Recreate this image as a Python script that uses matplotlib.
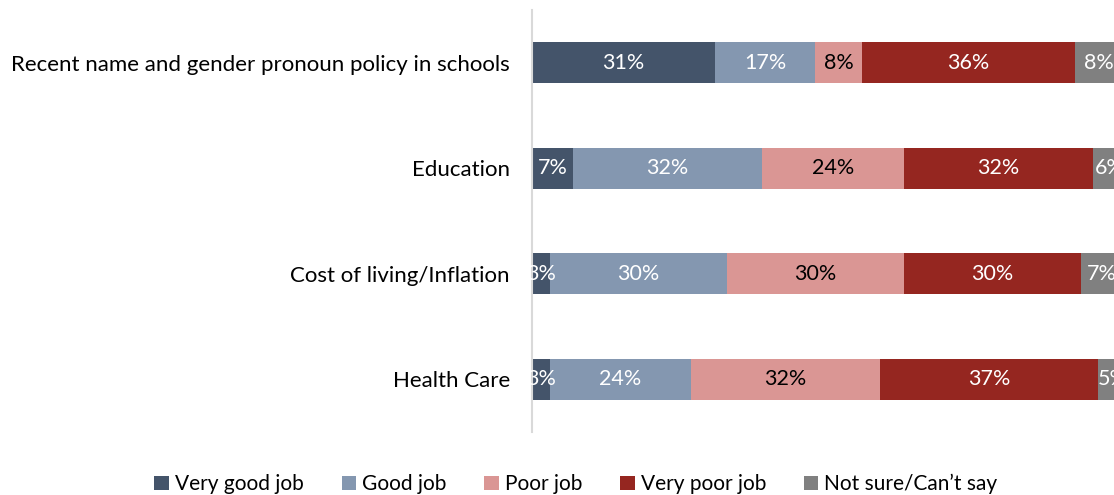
import matplotlib
matplotlib.use("Agg")
import matplotlib.pyplot as plt
from matplotlib.patches import Patch

plt.rcParams['font.family'] = ['Lato', 'DejaVu Sans']

categories = [
    "Recent name and gender pronoun policy in schools",
    "Education",
    "Cost of living/Inflation",
    "Health Care",
]
series_names = ["Very good job", "Good job", "Poor job", "Very poor job", "Not sure/Can\u2019t say"]
very_good = [31, 7, 3, 3]
good = [17, 32, 30, 24]
poor = [8, 24, 30, 32]
very_poor = [36, 32, 30, 37]
not_sure = [8, 6, 7, 5]

series = [very_good, good, poor, very_poor, not_sure]
colors = ["#44546A", "#8497B0", "#DA9694", "#952620", "#808080"]
text_colors = ["white", "white", "black", "white", "white"]

fig = plt.figure(figsize=(11.14, 4.95), dpi=100)
W, H = 1114, 495
left_px, right_px, top_px, bottom_px = 532, 1122, 10, 432
ax = fig.add_axes([left_px / W, 1 - bottom_px / H,
                   (right_px - left_px) / W, (bottom_px - top_px) / H])

ypos = list(range(len(categories)))
lefts = [0] * len(categories)
for vals, col, tcol in zip(series, colors, text_colors):
    ax.barh(ypos, vals, left=lefts, height=0.39, color=col, edgecolor="none")
    for y, v, l in zip(ypos, vals, lefts):
        ax.text(l + v / 2, y, f"{v}%", ha="center", va="center",
                color=tcol, fontsize=15.5)
    lefts = [a + b for a, b in zip(lefts, vals)]

ax.set_xlim(0, 100)
ax.set_ylim(len(categories) - 0.5, -0.5)
ax.set_yticks(ypos)
ax.set_yticklabels(categories, fontsize=16)
ax.tick_params(axis="y", length=0, pad=16)
ax.set_xticks([])
for s in ["top", "right", "bottom"]:
    ax.spines[s].set_visible(False)
ax.spines["left"].set_color("#D9D9D9")
ax.spines["left"].set_linewidth(1.5)

handles = [Patch(facecolor=c, edgecolor="none") for c in colors]
fig.legend(handles, series_names, loc="center", bbox_to_anchor=(576 / W, 1 - 484 / H),
           ncol=5, frameon=False, fontsize=15, handlelength=0.7, handleheight=0.7,
           handletextpad=0.3, columnspacing=1.8)

fig.savefig("out.png", dpi=100)
